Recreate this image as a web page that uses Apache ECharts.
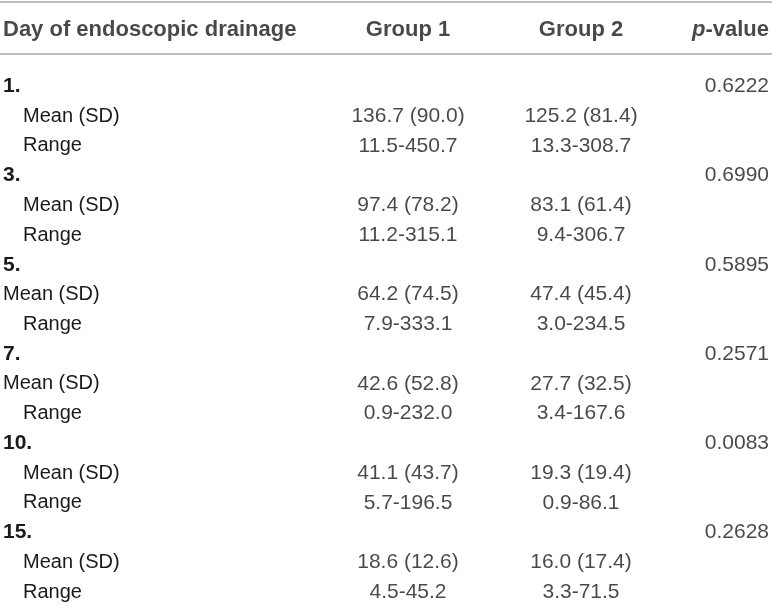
<!DOCTYPE html>
<html>
<head>
<meta charset="utf-8">
<script src="https://cdn.jsdelivr.net/npm/echarts@6/dist/echarts.min.js"></script>
<style>
  html, body { margin: 0; padding: 0; background: #fff; }
  #tabla { width: 772px; height: 607px; }
</style>
</head>
<body>
<div id="tabla"></div>
<script>
/* eslint-disable no-undef */

// DATOS DE LA TABLA
const days = ["1.", "3.", "5.", "7.", "10.", "15."];
const headers = ["Day of endoscopic drainage", "Group 1", "Group 2", "p-value"];

const group1Mean = [136.7, 97.4, 64.2, 42.6, 41.1, 18.6];
const group1SD = [90.0, 78.2, 74.5, 52.8, 43.7, 12.6];
const group1Min = [11.5, 11.2, 7.9, 0.9, 5.7, 4.5];
const group1Max = [450.7, 315.1, 333.1, 232.0, 196.5, 45.2];

const group2Mean = [125.2, 83.1, 47.4, 27.7, 19.3, 16.0];
const group2SD = [81.4, 61.4, 45.4, 32.5, 19.4, 17.4];
const group2Min = [13.3, 9.4, 3.0, 3.4, 0.9, 3.3];
const group2Max = [308.7, 306.7, 234.5, 167.6, 86.1, 71.5];

const pValues = [0.6222, 0.6990, 0.5895, 0.2571, 0.0083, 0.2628];

// DISEÑO
const font = "'Liberation Sans', Arial, Helvetica, sans-serif";
const ink = "#1a1a1a";
const ruleColor = "#a8a8a8";
const colX = { label: 3, g1: 408, g2: 581, p: 769 };
// filas "Mean (SD)" que en el original no llevan sangría (día 5 y 7)
const unindentedRows = [7, 10];

// Filas: día, Mean (SD), Range
const rowLabels = [];
days.forEach(d => { rowLabels.push(d, "Mean (SD)", "Range"); });

function cellData(mean, sd, min, max, x) {
  const out = [];
  days.forEach((d, i) => {
    out.push({ name: mean[i].toFixed(1) + " (" + sd[i].toFixed(1) + ")", value: [x, 3 * i + 1] });
    out.push({ name: min[i].toFixed(1) + "-" + max[i].toFixed(1), value: [x, 3 * i + 2] });
  });
  return out;
}

const pData = pValues.map((p, i) => ({ name: p.toFixed(4), value: [colX.p, 3 * i] }));

const cellLabel = (align) => ({
  show: true,
  position: "inside",
  align: align,
  verticalAlign: "middle",
  formatter: "{b}",
  color: ink,
  fontFamily: font,
  fontSize: 21
});

const hiddenX = (grid, pos, line) => ({
  type: "value",
  gridIndex: grid,
  position: pos,
  min: 0,
  max: 772,
  axisLine: { show: line, onZero: false, lineStyle: { color: ruleColor, width: 1.5 } },
  axisTick: { show: false },
  axisLabel: { show: false },
  splitLine: { show: false }
});

const headerItems = headers.map((h, i) => {
  const key = ["label", "g1", "g2", "p"][i];
  const align = i === 0 ? "left" : (i === 3 ? "right" : "center");
  return {
    name: h,
    value: [colX[key], 0],
    label: { align: align }
  };
});

let options = {
  animation: false,
  grid: [
    { left: 0, right: 0, top: 1.5, height: 52.5 },
    { left: 0, right: 0, top: 71.5, height: 540 }
  ],
  xAxis: [
    hiddenX(0, "top", true),
    hiddenX(0, "bottom", true),
    hiddenX(1, "bottom", false)
  ],
  yAxis: [
    {
      type: "category",
      gridIndex: 0,
      data: ["header"],
      show: false
    },
    {
      type: "category",
      gridIndex: 1,
      data: rowLabels,
      inverse: true,
      axisLine: { show: false },
      axisTick: { show: false },
      splitLine: { show: false },
      axisLabel: {
        inside: true,
        margin: colX.label,
        interval: 0,
        formatter: (value, index) => {
          if (index % 3 === 0) return "{b|" + value + "}";
          if (unindentedRows.includes(index)) return "{n|" + value + "}";
          return "{ind|" + value + "}";
        },
        rich: {
          b: { fontFamily: font, fontSize: 21, fontWeight: "bold", color: ink },
          n: { fontFamily: font, fontSize: 20, color: ink },
          ind: { fontFamily: font, fontSize: 20, color: ink, padding: [0, 0, 0, 20] }
        }
      }
    }
  ],
  series: [
    {
      name: "Encabezado",
      type: "scatter",
      xAxisIndex: 0,
      yAxisIndex: 0,
      symbolSize: 1,
      itemStyle: { color: "rgba(0,0,0,0)" },
      label: {
        show: true,
        position: "inside",
        offset: [0, 2],
        verticalAlign: "middle",
        formatter: (p) => p.name === "p-value" ? "{i|p}{h|-value}" : "{h|" + p.name + "}",
        rich: {
          h: { fontFamily: font, fontSize: 22, fontWeight: "bold", color: ink },
          i: { fontFamily: font, fontSize: 22, fontWeight: "bold", fontStyle: "italic", color: ink }
        }
      },
      data: headerItems
    },
    {
      name: "Group 1",
      type: "scatter",
      xAxisIndex: 2,
      yAxisIndex: 1,
      symbolSize: 1,
      itemStyle: { color: "rgba(0,0,0,0)" },
      label: cellLabel("center"),
      data: cellData(group1Mean, group1SD, group1Min, group1Max, colX.g1)
    },
    {
      name: "Group 2",
      type: "scatter",
      xAxisIndex: 2,
      yAxisIndex: 1,
      symbolSize: 1,
      itemStyle: { color: "rgba(0,0,0,0)" },
      label: cellLabel("center"),
      data: cellData(group2Mean, group2SD, group2Min, group2Max, colX.g2)
    },
    {
      name: "p-value",
      type: "scatter",
      xAxisIndex: 2,
      yAxisIndex: 1,
      symbolSize: 1,
      itemStyle: { color: "rgba(0,0,0,0)" },
      label: cellLabel("right"),
      data: pData
    }
  ]
};

// Crea la tabla
let tabla = echarts.init(document.getElementById("tabla"));
tabla.setOption(options);
</script>
</body>
</html>
